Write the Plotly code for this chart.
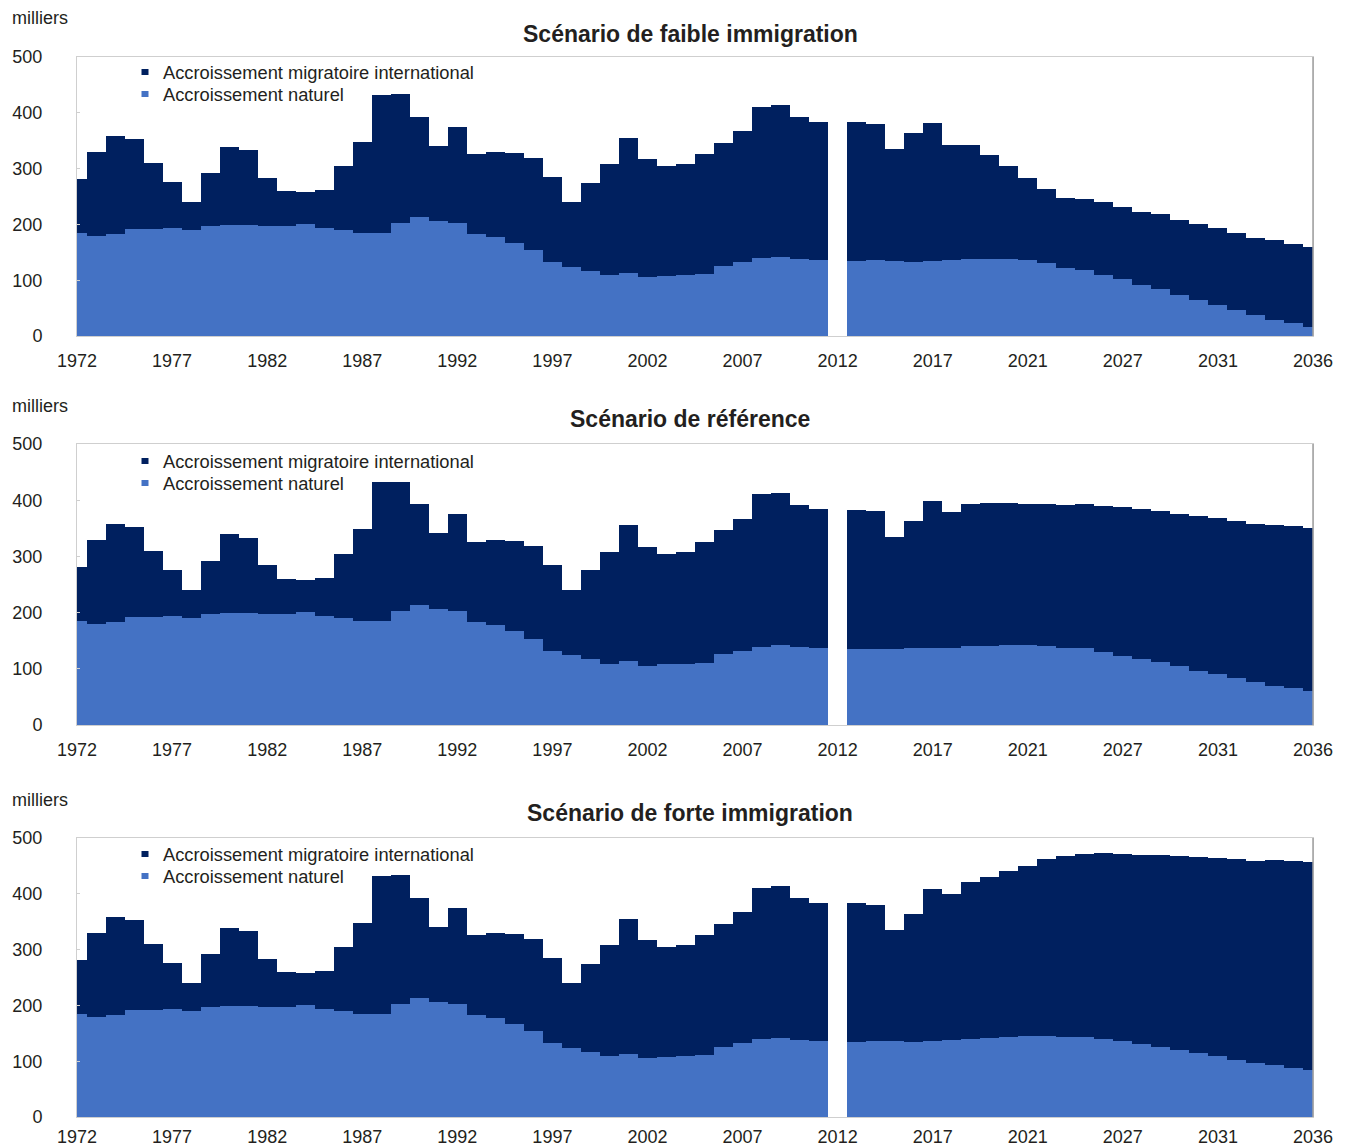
import plotly.graph_objects as go

# ---------------- data (milliers) ----------------
tick_labels = ["1972", "1977", "1982", "1987", "1992", "1997", "2002",
               "2007", "2012", "2017", "2021", "2027", "2031", "2036"]

# historical period (40 bars), identical in the three scenarios
hist_naturel = [184.2, 179.4, 183.0, 191.4, 192.6, 193.2, 190.2, 197.3, 198.5, 199.1,
                197.9, 197.9, 200.9, 193.8, 190.2, 184.2, 185.4, 202.1, 212.9, 206.9,
                203.3, 182.4, 178.2, 167.4, 153.7, 132.2, 123.8, 117.2, 109.4, 113.6,
                105.8, 108.2, 109.4, 111.2, 125.6, 132.2, 139.3, 141.7, 138.7, 137.0]
hist_migratoire = [97.5, 150.6, 174.6, 161.4, 117.2, 83.1, 50.8, 94.5, 140.5, 133.9,
                   86.1, 61.1, 57.4, 67.5, 113.6, 163.8, 247.0, 230.9, 180.1, 134.0,
                   171.7, 143.6, 151.3, 160.9, 165.6, 153.0, 117.2, 157.8, 198.6, 241.6,
                   211.2, 195.6, 198.0, 215.3, 220.6, 235.0, 271.5, 271.5, 253.0, 247.0]

# projection period (25 bars)
faible_naturel = [134.6, 135.7, 134.6, 133.4, 135.0, 136.0, 138.0, 138.7, 138.0, 136.0,
                  130.4, 122.0, 118.4, 110.0, 101.7, 90.9, 83.7, 74.2, 64.0, 55.6,
                  46.0, 37.7, 29.3, 23.3, 16.7]
faible_migratoire = [248.7, 244.6, 200.9, 229.6, 247.0, 205.5, 204.0, 186.0, 166.4, 147.5,
                     132.6, 126.0, 127.4, 129.8, 129.7, 132.1, 134.6, 134.5, 136.3, 138.2,
                     138.8, 138.7, 142.9, 141.2, 143.0]

ref_naturel = [134.6, 135.7, 134.6, 136.4, 137.0, 137.6, 140.0, 141.0, 141.7, 141.7,
               140.5, 137.6, 136.4, 129.3, 123.3, 118.0, 112.0, 105.0, 96.6, 90.7,
               83.6, 76.5, 70.0, 65.2, 60.5]
ref_migratoire = [248.7, 244.6, 200.4, 226.6, 262.0, 241.9, 253.7, 254.5, 252.6, 252.0,
                  252.7, 254.4, 256.2, 260.9, 263.9, 266.3, 268.0, 271.0, 275.2, 277.0,
                  279.9, 280.5, 285.2, 288.2, 290.5]

forte_naturel = [134.6, 135.7, 135.6, 135.0, 136.2, 137.4, 139.8, 142.2, 144.0, 145.2,
                 145.8, 144.0, 142.8, 140.4, 135.6, 130.8, 126.0, 120.7, 114.7, 108.7,
                 102.8, 96.8, 92.6, 88.4, 84.8]
forte_migratoire = [248.7, 244.6, 200.4, 228.8, 271.8, 261.6, 280.8, 288.5, 297.5, 305.2,
                    317.2, 323.8, 329.2, 332.2, 336.4, 339.2, 343.6, 347.1, 351.3, 355.5,
                    359.0, 362.6, 368.0, 369.8, 372.2]

titles = ["Scénario de faible immigration", "Scénario de référence",
          "Scénario de forte immigration"]
scenarios = [(faible_naturel, faible_migratoire),
             (ref_naturel, ref_migratoire),
             (forte_naturel, forte_migratoire)]

name_mig = "Accroissement migratoire international"
name_nat = "Accroissement naturel"
col_mig = "#00205F"
col_nat = "#4472C4"

n_hist = len(hist_naturel)
n_bars = n_hist + 1 + len(faible_naturel)      # one empty slot between periods
xpos = list(range(n_bars))
tick_pos = list(range(0, n_bars, 5))

FONT = "Liberation Sans, Arial, sans-serif"
TXT = "#231f20"

# page body has an 8px margin: figure size / positions compensate for it
OFF = 8
FIG_W, FIG_H = 1350 - OFF, 1148 - OFF
L, T = 77 - OFF, 57 - OFF          # plot left / top (page px -> figure px)
R = FIG_W - (1313 - OFF)
B = FIG_H - (1117 - OFF)
W_PLOT = FIG_W - L - R
H_PLOT = FIG_H - T - B
def py(pix):      # page pixel -> paper y
    return (FIG_H - B - (pix - OFF)) / H_PLOT
def px(pix):      # page pixel -> paper x
    return ((pix - OFF) - L) / W_PLOT

domains = [(py(336), py(57)), (py(725), py(444)), (py(1117), py(838))]
title_y = [py(34), py(419), py(813)]
unit_y = [py(18), py(406), py(800)]
legend_rows = [(72, 94), (461, 483), (854, 876)]
xlabel_standoff = [8, 8, 3]

fig = go.Figure()
layout = dict(
    width=FIG_W, height=FIG_H,
    margin=dict(l=L, r=R, t=T, b=B, autoexpand=False),
    paper_bgcolor="white", plot_bgcolor="white",
    barmode="stack", bargap=0, showlegend=False,
    font=dict(family=FONT, size=18, color=TXT),
    annotations=[], shapes=[],
)

for k, ((nat, mig), title) in enumerate(zip(scenarios, titles)):
    sfx = "" if k == 0 else str(k + 1)
    xa, ya = "x" + sfx, "y" + sfx
    nat_full = hist_naturel + [None] + nat
    mig_full = hist_migratoire + [None] + mig

    fig.add_trace(go.Bar(x=xpos, y=nat_full, width=1, marker=dict(color=col_nat, line=dict(width=0)),
                         name=name_nat, xaxis=xa, yaxis=ya))
    fig.add_trace(go.Bar(x=xpos, y=mig_full, width=1, marker=dict(color=col_mig, line=dict(width=0)),
                         name=name_mig, xaxis=xa, yaxis=ya))

    layout["xaxis" + sfx] = dict(
        domain=[0, 1], anchor=ya, range=[0, n_bars - 1], automargin=False,
        tickvals=tick_pos, ticktext=tick_labels, showgrid=False, zeroline=False,
        showline=True, linecolor="#cfcfcf", linewidth=1, mirror=True,
        ticks="", ticklabelstandoff=xlabel_standoff[k], tickfont=dict(size=18),
    )
    layout["yaxis" + sfx] = dict(
        domain=list(domains[k]), anchor=xa, range=[0, 500], automargin=False,
        tickvals=[0, 100, 200, 300, 400, 500], showgrid=False, zeroline=False,
        showline=True, linecolor="#cfcfcf", linewidth=1, mirror=True,
        ticks="inside", ticklen=3, tickcolor="#cfcfcf",
        ticklabelstandoff=30, tickfont=dict(size=18),
    )
    # manual legend (compact rows as in the original)
    for (label, col), ypix in zip([(name_mig, col_mig), (name_nat, col_nat)], legend_rows[k]):
        layout["shapes"].append(dict(
            type="rect", xref="paper", yref="paper", layer="above",
            x0=px(141.5), x1=px(148.5), y0=py(ypix + 3), y1=py(ypix - 3),
            fillcolor=col, line=dict(width=0)))
        layout["annotations"].append(dict(
            text=label, xref="paper", yref="paper", x=px(161), y=py(ypix),
            xanchor="left", yanchor="middle", showarrow=False,
            font=dict(size=18.3, family=FONT, color=TXT)))
    layout["annotations"].append(dict(
        text="<b>" + title + "</b>", xref="paper", yref="paper",
        x=px(690), y=title_y[k], xanchor="center", yanchor="middle",
        showarrow=False, font=dict(size=23, family=FONT, color=TXT)))
    layout["annotations"].append(dict(
        text="milliers", xref="paper", yref="paper",
        x=px(10), y=unit_y[k], xanchor="left", yanchor="middle",
        showarrow=False, font=dict(size=18, family=FONT, color=TXT)))
    layout["shapes"].append(dict(
        type="line", xref=xa + " domain", yref=ya + " domain",
        x0=1, x1=1, y0=0, y1=1, line=dict(color="#a0a0a0", width=1.5)))

fig.update_layout(**layout)
fig.write_html("out.html")
